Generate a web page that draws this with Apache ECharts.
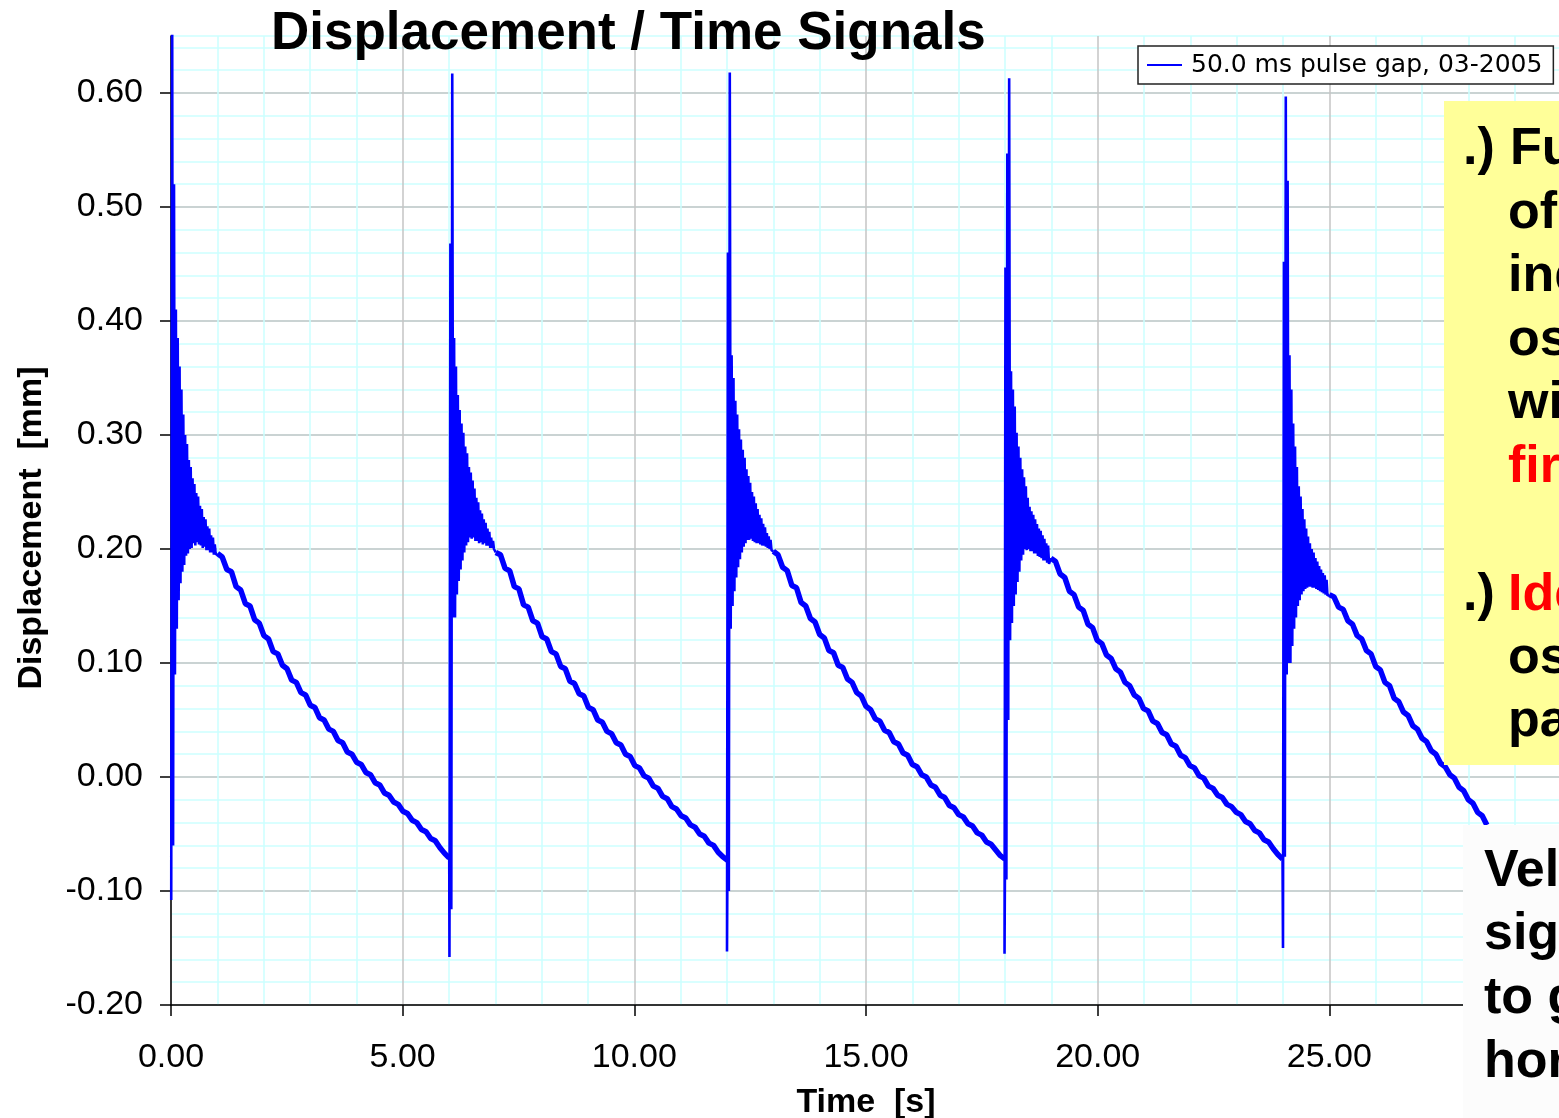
<!DOCTYPE html>
<html>
<head>
<meta charset="utf-8">
<title>Displacement / Time Signals</title>
<script src="https://cdn.jsdelivr.net/npm/echarts@6/dist/echarts.min.js"></script>
<style>
  html, body { margin: 0; padding: 0; background: #ffffff; }
  #chart { width: 1559px; height: 1118px; }
</style>
</head>
<body>
<div id="chart"></div>
<script>
// ---- measured signal: five pulses, each followed by ringing and a slow stepped decay ----
const seriesName = '50.0 ms pulse gap, 03-2005';

// time [s] of each pulse
const pulseTimes = [0.005, 6.01, 12.0, 17.99, 24.0];

// displacement values at the pulse itself (0.02 s apart) [mm]
const spike1 = [-0.108, 0.70, -0.06, 0.52, 0.09];
const spike2 = [-0.158, 0.468, -0.116, 0.617, 0.14];
const spike3 = [-0.153, 0.46, -0.10, 0.618, 0.13];
const spike4 = [-0.155, 0.447, -0.09, 0.547, 0.05, 0.613, 0.12];
const spike5 = [-0.150, 0.452, -0.07, 0.597, 0.09, 0.523, 0.10];

// ringing after the pulse: upper and lower swing, 0.04 s apart [mm]
const ringHi1 = [0.41, 0.385, 0.36, 0.34, 0.318, 0.30, 0.292, 0.278, 0.272, 0.262, 0.257, 0.249, 0.246, 0.238, 0.235, 0.228, 0.226, 0.22, 0.218, 0.212, 0.21, 0.204];
const ringLo1 = [0.13, 0.155, 0.17, 0.18, 0.186, 0.194, 0.196, 0.2, 0.201, 0.205, 0.203, 0.206, 0.204, 0.203, 0.201, 0.202, 0.199, 0.199, 0.197, 0.197, 0.195, 0.195];
const ringHi2 = [0.385, 0.36, 0.335, 0.322, 0.31, 0.302, 0.29, 0.284, 0.272, 0.267, 0.26, 0.253, 0.245, 0.241, 0.234, 0.231, 0.226, 0.223, 0.218, 0.215, 0.21, 0.207];
const ringLo2 = [0.14, 0.16, 0.172, 0.182, 0.19, 0.197, 0.203, 0.206, 0.21, 0.209, 0.21, 0.207, 0.207, 0.205, 0.206, 0.204, 0.205, 0.203, 0.203, 0.201, 0.201, 0.2];
const ringHi3 = [0.37, 0.35, 0.33, 0.318, 0.305, 0.296, 0.287, 0.28, 0.27, 0.264, 0.258, 0.25, 0.246, 0.24, 0.235, 0.23, 0.227, 0.222, 0.219, 0.214, 0.211, 0.208];
const ringLo3 = [0.15, 0.163, 0.175, 0.184, 0.191, 0.197, 0.202, 0.205, 0.208, 0.208, 0.209, 0.207, 0.206, 0.205, 0.205, 0.204, 0.203, 0.203, 0.202, 0.201, 0.2, 0.199];
const ringHi4 = [0.356, 0.34, 0.325, 0.302, 0.29, 0.28, 0.27, 0.263, 0.255, 0.245, 0.237, 0.233, 0.23, 0.226, 0.222, 0.218, 0.216, 0.212, 0.209, 0.205, 0.203];
const ringLo4 = [0.135, 0.15, 0.16, 0.171, 0.18, 0.19, 0.195, 0.2, 0.199, 0.2, 0.198, 0.198, 0.196, 0.196, 0.194, 0.193, 0.192, 0.19, 0.19, 0.188, 0.187];
const ringHi5 = [0.37, 0.34, 0.31, 0.29, 0.272, 0.255, 0.246, 0.235, 0.226, 0.218, 0.211, 0.205, 0.2, 0.197, 0.192, 0.189, 0.185, 0.182, 0.179, 0.177, 0.173];
const ringLo5 = [0.10, 0.115, 0.13, 0.14, 0.15, 0.155, 0.16, 0.163, 0.165, 0.166, 0.167, 0.167, 0.166, 0.166, 0.165, 0.164, 0.163, 0.162, 0.161, 0.16, 0.159];

// stepped decay from 1.0 s after each pulse, 0.1 s apart [mm]
const decay1 = [0.196, 0.193, 0.182, 0.180, 0.167, 0.164, 0.152, 0.150, 0.138, 0.135, 0.124, 0.121, 0.110, 0.108, 0.098, 0.095, 0.085, 0.083, 0.074, 0.072, 0.063, 0.061, 0.052, 0.050, 0.042, 0.040, 0.032, 0.030, 0.022, 0.020, 0.013, 0.011, 0.004, 0.002, -0.005, -0.007, -0.014, -0.016, -0.022, -0.024, -0.030, -0.032, -0.038, -0.040, -0.046, -0.048, -0.054, -0.056, -0.062, -0.067, -0.071];
const decay2 = [0.197, 0.195, 0.183, 0.181, 0.167, 0.165, 0.151, 0.149, 0.137, 0.135, 0.123, 0.121, 0.110, 0.108, 0.097, 0.095, 0.084, 0.082, 0.073, 0.071, 0.061, 0.059, 0.050, 0.048, 0.040, 0.038, 0.030, 0.028, 0.020, 0.018, 0.010, 0.008, 0.001, -0.001, -0.008, -0.010, -0.017, -0.019, -0.026, -0.028, -0.034, -0.036, -0.042, -0.044, -0.050, -0.052, -0.058, -0.060, -0.066, -0.070, -0.073];
const decay3 = [0.198, 0.195, 0.184, 0.181, 0.168, 0.166, 0.153, 0.150, 0.139, 0.136, 0.125, 0.122, 0.111, 0.109, 0.098, 0.096, 0.086, 0.083, 0.074, 0.071, 0.062, 0.059, 0.051, 0.049, 0.041, 0.039, 0.031, 0.029, 0.021, 0.019, 0.011, 0.009, 0.002, 0.000, -0.007, -0.009, -0.016, -0.018, -0.025, -0.027, -0.033, -0.035, -0.041, -0.043, -0.049, -0.051, -0.057, -0.059, -0.064, -0.069, -0.072];
const decay4 = [0.192, 0.189, 0.178, 0.175, 0.163, 0.160, 0.149, 0.146, 0.134, 0.131, 0.120, 0.117, 0.107, 0.104, 0.095, 0.092, 0.083, 0.080, 0.072, 0.069, 0.060, 0.058, 0.049, 0.047, 0.039, 0.037, 0.029, 0.027, 0.019, 0.017, 0.010, 0.008, 0.001, -0.001, -0.008, -0.010, -0.016, -0.018, -0.024, -0.026, -0.031, -0.033, -0.039, -0.041, -0.047, -0.049, -0.055, -0.057, -0.063, -0.068, -0.072];
const decay5 = [0.160, 0.158, 0.149, 0.147, 0.137, 0.134, 0.124, 0.121, 0.111, 0.108, 0.097, 0.094, 0.083, 0.080, 0.069, 0.066, 0.057, 0.054, 0.045, 0.042, 0.034, 0.031, 0.023, 0.020, 0.012, 0.009, 0.002, -0.001, -0.009, -0.012, -0.020, -0.023, -0.031, -0.034, -0.042];

// axis tick labels
const xTicks = [0, 5, 10, 15, 20, 25];
const yTicks = [-0.2, -0.1, 0.0, 0.1, 0.2, 0.3, 0.4, 0.5, 0.6];

const cycles = [
  { t0: pulseTimes[0], spike: spike1, hi: ringHi1, lo: ringLo1, decay: decay1 },
  { t0: pulseTimes[1], spike: spike2, hi: ringHi2, lo: ringLo2, decay: decay2 },
  { t0: pulseTimes[2], spike: spike3, hi: ringHi3, lo: ringLo3, decay: decay3 },
  { t0: pulseTimes[3], spike: spike4, hi: ringHi4, lo: ringLo4, decay: decay4 },
  { t0: pulseTimes[4], spike: spike5, hi: ringHi5, lo: ringLo5, decay: decay5 }
];

const SPIKE_DT = 0.02, RING_DT = 0.04, DECAY_DT = 0.1, DECAY_START = 1.0;

// thin trace: pulse + ringing; thick trace: stepped decay
const thinData = [];
const thickData = [];
let prevEnd = null;
cycles.forEach(c => {
  if (prevEnd) thinData.push(prevEnd);
  c.spike.forEach((v, i) => thinData.push([c.t0 + i * SPIKE_DT, v]));
  const ringStart = c.t0 + c.spike.length * SPIKE_DT;
  c.hi.forEach((v, i) => {
    thinData.push([ringStart + i * RING_DT, v]);
    thinData.push([ringStart + i * RING_DT + RING_DT / 2, c.lo[i]]);
  });
  const d0 = c.t0 + DECAY_START;
  thinData.push([d0, c.decay[0]]);
  thinData.push([d0, '-']);
  c.decay.forEach((v, i) => thickData.push([d0 + i * DECAY_DT, v]));
  const last = [d0 + (c.decay.length - 1) * DECAY_DT, c.decay[c.decay.length - 1]];
  thickData.push([last[0], '-']);
  prevEnd = last;
});

const chart = echarts.init(document.getElementById('chart'), null, { renderer: 'canvas' });

const GRID_LEFT = 171, GRID_TOP = 36, GRID_W = 1390, GRID_H = 969;
const font = '"Liberation Sans", Arial, sans-serif';

function boxText(x, baseline, text, color) {
  return {
    type: 'text', z: 110,
    style: {
      text: text, x: x, y: baseline - 18,
      font: 'bold 52px ' + font, fill: color || '#000000',
      textAlign: 'left', textVerticalAlign: 'middle'
    }
  };
}

const option = {
  animation: false,
  backgroundColor: '#ffffff',
  title: {
    text: 'Displacement / Time Signals',
    left: 271, top: 8, padding: 0,
    textStyle: { fontFamily: font, fontSize: 53, fontWeight: 'bold', color: '#000000' }
  },
  legend: {
    data: [seriesName],
    left: 1138, top: 46,
    padding: [5, 11, 5, 8],
    itemWidth: 35, itemHeight: 2,
    backgroundColor: '#ffffff',
    borderColor: '#222222', borderWidth: 1.5, borderRadius: 0,
    textStyle: { fontFamily: '"DejaVu Sans", sans-serif', fontSize: 25, color: '#000000', padding: [0, 0, 0, 4], lineHeight: 28 },
    z: 20
  },
  grid: {
    left: GRID_LEFT, top: GRID_TOP, width: GRID_W, height: GRID_H,
    containLabel: false, outerBoundsMode: 'none'
  },
  xAxis: {
    type: 'value', min: 0, max: 30, interval: 5,
    name: 'Time  [s]', nameLocation: 'middle', nameGap: 81,
    nameTextStyle: { fontFamily: font, fontSize: 34, fontWeight: 'bold', color: '#000000' },
    axisLine: { onZero: false, lineStyle: { color: '#000000', width: 1.5 } },
    axisTick: { show: true, inside: false, length: 11, lineStyle: { color: '#000000', width: 1.5 }, customValues: xTicks },
    axisLabel: { fontFamily: font, fontSize: 34, color: '#000000', margin: 36, customValues: xTicks,
      formatter: v => v.toFixed(2) },
    splitLine: { show: true, lineStyle: { color: '#c4c4c4', width: 1.5 } },
    minorTick: { show: false, splitNumber: 5 },
    minorSplitLine: { show: true, lineStyle: { color: '#ccffff', width: 1.5 } },
    z: 1
  },
  yAxis: [
    {
      type: 'value', min: -0.2, max: 0.65, interval: 0.1, position: 'left',
      axisLine: { onZero: false, lineStyle: { color: '#000000', width: 1.5 } },
      axisTick: { show: true, inside: false, length: 11, lineStyle: { color: '#000000', width: 1.5 }, customValues: yTicks },
      axisLabel: { fontFamily: font, fontSize: 34, color: '#000000', margin: 28, customValues: yTicks,
        formatter: v => v.toFixed(2) },
      splitLine: { show: true, lineStyle: { color: '#c4c4c4', width: 1.5 } },
      z: 1
    },
    {
      // fine 0.02 mm grid
      type: 'value', min: -0.2, max: 0.65, interval: 0.02, position: 'left',
      axisLine: { show: false }, axisTick: { show: false }, axisLabel: { show: false },
      splitLine: { show: true, lineStyle: { color: '#ccffff', width: 1.5 } },
      z: 0
    }
  ],
  series: [
    {
      name: seriesName, type: 'line', data: thinData, yAxisIndex: 0,
      symbol: 'none', clip: true, connectNulls: false,
      lineStyle: { color: '#0000ff', width: 2.6 }, itemStyle: { color: '#0000ff' }, z: 3
    },
    {
      name: seriesName, type: 'line', data: thickData, yAxisIndex: 0,
      symbol: 'none', clip: true, connectNulls: false,
      lineStyle: { color: '#0000ff', width: 5.5 }, itemStyle: { color: '#0000ff' }, z: 3
    }
  ],
  graphic: [
    // vertical axis title
    {
      type: 'text', z: 50, rotation: Math.PI / 2, x: 32, y: 528,
      style: {
        text: 'Displacement  [mm]', x: 0, y: 0,
        font: 'bold 34px ' + font, fill: '#000000',
        textAlign: 'center', textVerticalAlign: 'middle'
      }
    },
    // yellow note panel
    { type: 'rect', z: 100, shape: { x: 1444, y: 101, width: 130, height: 664 }, style: { fill: '#ffff99' } },
    boxText(1463, 168, '.)'), boxText(1510, 168, 'Full view'),
    boxText(1508, 231.5, 'of the'),
    boxText(1508, 295, 'individual'),
    boxText(1508, 358.5, 'oscillations'),
    boxText(1508, 422, 'with'),
    boxText(1508, 485.5, 'first pulse', '#ff0000'),
    boxText(1463, 614, '.)'), boxText(1508, 614, 'Identify', '#ff0000'),
    boxText(1508, 677, 'oscillation'),
    boxText(1508, 740, 'parameters'),
    // lower note panel
    { type: 'rect', z: 100, shape: { x: 1463, y: 825, width: 110, height: 300 }, style: { fill: '#fcfcfc' } },
    boxText(1484, 890, 'Velocity'),
    boxText(1484, 953, 'signal'),
    boxText(1484, 1017, 'to get'),
    boxText(1484, 1081, 'horizontal')
  ]
};

chart.setOption(option);
</script>
</body>
</html>
